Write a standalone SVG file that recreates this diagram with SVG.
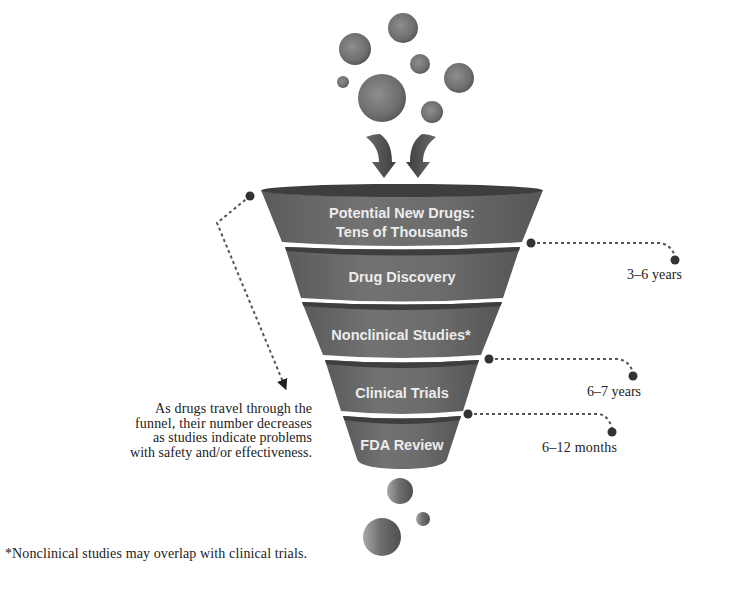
<svg xmlns="http://www.w3.org/2000/svg" width="750" height="592" viewBox="0 0 750 592">
<defs>
<radialGradient id="ball" cx="0.42" cy="0.42" r="0.6">
<stop offset="0" stop-color="#8e8e8e"/>
<stop offset="0.75" stop-color="#6e6e6e"/>
<stop offset="1" stop-color="#595959"/>
</radialGradient>
<linearGradient id="ballB" x1="0" y1="0" x2="1" y2="0">
<stop offset="0" stop-color="#a8a8a8"/>
<stop offset="0.45" stop-color="#707070"/>
<stop offset="1" stop-color="#4e4e4e"/>
</linearGradient>
<linearGradient id="body" x1="0" y1="0" x2="1" y2="0">
<stop offset="0" stop-color="#5a5a5a"/>
<stop offset="0.35" stop-color="#727272"/>
<stop offset="0.65" stop-color="#6c6c6c"/>
<stop offset="1" stop-color="#565656"/>
</linearGradient>
<linearGradient id="arrowG" x1="0" y1="0" x2="1" y2="0">
<stop offset="0" stop-color="#6a6a6a"/>
<stop offset="1" stop-color="#3e3e3e"/>
</linearGradient>
<marker id="tri" viewBox="0 0 10 10" refX="2" refY="5" markerWidth="5.5" markerHeight="5.5" orient="auto" markerUnits="strokeWidth">
<path d="M0,0 L10,5 L0,10 Z" fill="#222"/>
</marker>
<style>
.seg{fill:url(#body)}
.band{fill:#3e3e3e}
.lbl{font-family:"Liberation Sans",Arial,sans-serif;font-weight:bold;font-size:14.5px;fill:#ececec;text-anchor:middle}
.ser{font-family:"Liberation Serif","Times New Roman",serif;font-size:14px;fill:#222}
.dash{fill:none;stroke:#555;stroke-width:2;stroke-dasharray:3 3}
.dot{fill:#333}
.ball{fill:url(#ball)}
.ballB{fill:url(#ballB)}
</style>
</defs>
<rect width="750" height="592" fill="#fff"/>

<g id="bubbles-top">
<circle class="ball" cx="403" cy="28" r="15"/>
<circle class="ball" cx="355" cy="49" r="16"/>
<circle class="ball" cx="420" cy="64" r="10"/>
<circle class="ball" cx="343" cy="82" r="6"/>
<circle class="ball" cx="382" cy="98" r="24"/>
<circle class="ball" cx="459" cy="78" r="15"/>
<circle class="ball" cx="432" cy="112" r="11"/>
</g>

<g id="arrows-in">
<path d="M366,137 C371,135 376,134 380,134 C387,139 392,147 392,162 L396,162 L384,178 L372,162 L379,162 C379,152 375,144 366,137 Z" fill="url(#arrowG)"/>
<path d="M366,137 C371,135 376,134 380,134 C387,139 392,147 392,162 L396,162 L384,178 L372,162 L379,162 C379,152 375,144 366,137 Z" fill="url(#arrowG)" transform="translate(802,0) scale(-1,1)"/>
</g>

<g id="seg1">
<path class="seg" d="M261,190 L282,242 Q402,250 522,242 L543,190 A141,6.5 0 0 1 261,190 Z"/>
<ellipse class="band" cx="402" cy="190.5" rx="141" ry="6.5"/>
<text class="lbl" x="402" y="218">Potential New Drugs:</text>
<text class="lbl" x="402" y="237">Tens of Thousands</text>
</g>

<g id="seg2">
<path class="seg" d="M285,247 Q402,252 520,247 L503,298 Q402,305 301,298 Z"/>
<path class="band" d="M285,247 Q402,252 520,247 L519,251 Q402,260 286.3,251 Z"/>
<text class="lbl" x="402" y="282">Drug Discovery</text>
</g>

<g id="seg3">
<path class="seg" d="M302,302 Q402,307 502,302 L481,355 Q402,361 323,355 Z"/>
<path class="band" d="M302,302 Q402,307 502,302 L500.6,306 Q402,314 303.4,306 Z"/>
<text class="lbl" x="401" y="340">Nonclinical Studies*</text>
</g>

<g id="seg4">
<path class="seg" d="M325,360 Q402,365 479,360 L463,411 Q402,417 341,411 Z"/>
<path class="band" d="M325,360 Q402,365 479,360 L477.7,364 Q402,372 326.3,364 Z"/>
<text class="lbl" x="402" y="398">Clinical Trials</text>
</g>

<g id="seg5">
<path class="seg" d="M343,416 Q402,421 461,416 L447,459 C445,467 420,469 402,469 C384,469 359,467 357,459 Z"/>
<path class="band" d="M343,416 Q402,421 461,416 L459.7,420 Q402,428 344.3,420 Z"/>
<text class="lbl" x="402" y="450">FDA Review</text>
</g>

<g id="bubbles-bottom">
<circle class="ballB" cx="400" cy="491" r="13"/>
<circle class="ballB" cx="423" cy="519" r="7"/>
<circle class="ballB" cx="382" cy="537" r="19"/>
</g>

<g id="connectors">
<path class="dash" d="M250,196 L217,223 L283,382" marker-end="url(#tri)"/>
<circle class="dot" cx="250" cy="196" r="4.5"/>
<path class="dash" d="M531,243 H658 C667,243 673,249 675,257"/>
<circle class="dot" cx="531" cy="243" r="4.5"/>
<circle class="dot" cx="675" cy="260" r="4.5"/>
<path class="dash" d="M489,359 H616 C625,359 631,365 633,373"/>
<circle class="dot" cx="489" cy="359" r="4.5"/>
<circle class="dot" cx="633" cy="376" r="4.5"/>
<path class="dash" d="M468,414 H597 C605,414 610,420 612,429"/>
<circle class="dot" cx="468" cy="414" r="4.5"/>
<circle class="dot" cx="612" cy="432" r="4.5"/>
</g>

<g id="annotation-left">
<text class="ser" x="312" y="413" text-anchor="end" textLength="157">As drugs travel through the</text>
<text class="ser" x="312" y="427.5" text-anchor="end" textLength="177">funnel, their number decreases</text>
<text class="ser" x="312" y="442" text-anchor="end" textLength="159">as studies indicate problems</text>
<text class="ser" x="312" y="456.5" text-anchor="end" textLength="182">with safety and/or effectiveness.</text>
</g>

<g id="durations">
<text class="ser" x="627" y="279" textLength="55">3–6 years</text>
<text class="ser" x="587" y="396" textLength="54">6–7 years</text>
<text class="ser" x="542" y="452" textLength="75">6–12 months</text>
</g>

<g id="footnote">
<text class="ser" x="5" y="558" textLength="302">*Nonclinical studies may overlap with clinical trials.</text>
</g>
</svg>
